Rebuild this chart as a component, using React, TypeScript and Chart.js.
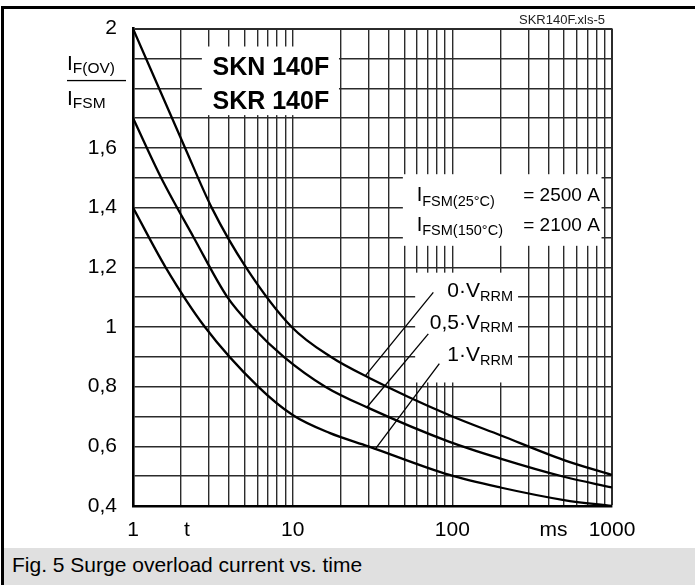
import React, { useEffect, useRef } from 'react';
import { Chart, registerables } from 'chart.js';

Chart.register(...registerables);

const FONT = '"Liberation Sans", Arial, Helvetica, sans-serif';

// ---- data (t in ms, value = IF(OV)/IFSM) ----
const seriesNames = ['0·VRRM', '0,5·VRRM', '1·VRRM'];

const tTop = [1, 2.12, 3.11, 5.1, 9.86, 17.3, 30, 96, 200, 500, 1000];
const vTop = [2.0, 1.6, 1.4, 1.2, 1.0, 0.9, 0.83, 0.704, 0.637, 0.554, 0.504];

const tMid = [1, 1.5, 2.4, 3.9, 5.6, 8.8, 16, 30, 96, 200, 500, 1000];
const vMid = [1.7, 1.5, 1.3, 1.1, 1.0, 0.9, 0.8, 0.728, 0.615, 0.559, 0.498, 0.462];

const tBot = [1, 1.6, 2.82, 6.08, 10, 17, 29.8, 96, 200, 500, 1000];
const vBot = [1.4, 1.2, 1.0, 0.8, 0.705, 0.645, 0.6, 0.504, 0.462, 0.42, 0.4];

const xLabelValues = [1, 10, 100, 1000];
const xAxisWords = [
  { text: 't', t: 2.18 },
  { text: 'ms', t: 430 },
];

// annotations in data coordinates
const whiteBoxes = [
  { t0: 2.7, t1: 19.5, v0: 1.71, v1: 1.94 },
  { t0: 49, t1: 860, v0: 1.272, v1: 1.512 },
  { t0: 58.5, t1: 258, v0: 0.814, v1: 1.182 },
];

const leaderLines = [
  { t0: 28.5, v0: 0.836, t1: 76, v1: 1.116 },
  { t0: 29.1, v0: 0.73, t1: 70.7, v1: 0.977 },
  { t0: 32.8, v0: 0.59, t1: 82.9, v1: 0.877 },
];

const productNames = ['SKN 140F', 'SKR 140F'];
const productT = 7.3;
const productV = [1.845, 1.73];

const ifsmSubs = ['FSM(25°C)', 'FSM(150°C)'];
const ifsmValues = ['= 2500 A', '= 2100 A'];
const ifsmV = [1.422, 1.322];
const ifsmT = 59.8;
const ifsmEqT = 278;

const vrrmMains = ['0·V', '0,5·V', '1·V'];
const vrrmV = [1.099, 0.994, 0.885];
const vrrmRightT = 240;

const sourceTag = 'SKR140F.xls-5';
const caption = 'Fig. 5 Surge overload current vs. time';

type Part = { text: string; size: number; bold?: boolean; dy?: number };

function drawParts(ctx: CanvasRenderingContext2D, parts: Part[], x: number, y: number, align: 'left' | 'right' | 'center') {
  const widths = parts.map((p) => {
    ctx.font = `${p.bold ? 'bold ' : ''}${p.size}px ${FONT}`;
    return ctx.measureText(p.text).width;
  });
  const total = widths.reduce((a, b) => a + b, 0);
  let cx = align === 'right' ? x - total : align === 'center' ? x - total / 2 : x;
  ctx.textAlign = 'left';
  ctx.textBaseline = 'alphabetic';
  parts.forEach((p, i) => {
    ctx.font = `${p.bold ? 'bold ' : ''}${p.size}px ${FONT}`;
    ctx.fillText(p.text, cx, y + (p.dy || 0));
    cx += widths[i];
  });
}

const overlayPlugin = {
  id: 'overlay',
  beforeDatasetsDraw(chart: any) {
    const { ctx, scales } = chart;
    const xs = scales.x;
    const ys = scales.y;
    ctx.save();
    ctx.fillStyle = '#ffffff';
    whiteBoxes.forEach((b) => {
      const x0 = xs.getPixelForValue(b.t0);
      const x1 = xs.getPixelForValue(b.t1);
      const y0 = ys.getPixelForValue(b.v1);
      const y1 = ys.getPixelForValue(b.v0);
      ctx.fillRect(x0, y0, x1 - x0, y1 - y0);
    });
    ctx.strokeStyle = '#000';
    ctx.lineWidth = 1.3;
    leaderLines.forEach((l) => {
      ctx.beginPath();
      ctx.moveTo(xs.getPixelForValue(l.t0), ys.getPixelForValue(l.v0));
      ctx.lineTo(xs.getPixelForValue(l.t1), ys.getPixelForValue(l.v1));
      ctx.stroke();
    });
    ctx.restore();
  },
  afterDraw(chart: any) {
    const { ctx, scales, chartArea } = chart;
    const xs = scales.x;
    const ys = scales.y;
    ctx.save();
    ctx.fillStyle = '#000';
    productNames.forEach((n, i) => {
      drawParts(ctx, [{ text: n, size: 25, bold: true }], xs.getPixelForValue(productT), ys.getPixelForValue(productV[i]), 'center');
    });
    ifsmSubs.forEach((s, i) => {
      const y = ys.getPixelForValue(ifsmV[i]);
      drawParts(ctx, [{ text: 'I', size: 20 }, { text: s, size: 14.5, dy: 4.5 }], xs.getPixelForValue(ifsmT), y, 'left');
      drawParts(ctx, [{ text: ifsmValues[i], size: 19 }], xs.getPixelForValue(ifsmEqT), y, 'left');
    });
    vrrmMains.forEach((m, i) => {
      drawParts(ctx, [{ text: m, size: 21 }, { text: 'RRM', size: 14.5, dy: 3.5 }], xs.getPixelForValue(vrrmRightT), ys.getPixelForValue(vrrmV[i]), 'right');
    });
    ctx.font = `21px ${FONT}`;
    ctx.textAlign = 'center';
    ctx.textBaseline = 'middle';
    xAxisWords.forEach((w) => {
      ctx.fillText(w.text, xs.getPixelForValue(w.t), chartArea.bottom + 24);
    });
    const lx = chartArea.left - 66;
    drawParts(ctx, [{ text: 'I', size: 21 }, { text: 'F(OV)', size: 15.5, dy: 3.5 }], lx, ys.getPixelForValue(1.862), 'left');
    ctx.fillRect(lx, ys.getPixelForValue(1.826) - 0.6, 59, 1.3);
    drawParts(ctx, [{ text: 'I', size: 21 }, { text: 'FSM', size: 15.5, dy: 3.5 }], lx, ys.getPixelForValue(1.745), 'left');
    ctx.font = `13px ${FONT}`;
    ctx.textAlign = 'right';
    ctx.textBaseline = 'alphabetic';
    ctx.fillStyle = '#222';
    ctx.fillText(sourceTag, chartArea.right - 7, chartArea.top - 5);
    ctx.restore();
  },
};

function toPoints(ts: number[], vs: number[]) {
  return ts.map((t, i) => ({ x: t, y: vs[i] }));
}

export default function App() {
  const ref = useRef<HTMLCanvasElement>(null);
  useEffect(() => {
    const canvas = ref.current;
    if (!canvas) return;
    const seriesT = [tTop, tMid, tBot];
    const seriesV = [vTop, vMid, vBot];
    const chart = new Chart(canvas, {
      type: 'line',
      data: {
        datasets: seriesNames.map((name, i) => ({
          label: name,
          data: toPoints(seriesT[i], seriesV[i]),
          borderColor: '#000',
          borderWidth: 2.3,
          pointRadius: 0,
          fill: false,
          cubicInterpolationMode: 'monotone' as const,
        })),
      },
      options: {
        animation: false,
        responsive: false,
        events: [],
        layout: { padding: { left: 0, right: 83, top: 27, bottom: 0 } },
        plugins: { legend: { display: false }, tooltip: { enabled: false } },
        scales: {
          x: {
            type: 'logarithmic',
            min: 1,
            max: 1000,
            afterBuildTicks: (scale: any) => {
              const ticks: { value: number }[] = [];
              [1, 10, 100].forEach((dec) => {
                for (let k = 1; k <= 9; k++) ticks.push({ value: k * dec });
              });
              ticks.push({ value: 1000 });
              scale.ticks = ticks;
            },
            afterFit: (scale: any) => {
              scale.height = 42;
            },
            grid: {
              color: '#2b2b2b',
              lineWidth: (c: any) => (c.tick && c.tick.value === 1000 ? 2 : 1.4),
              drawTicks: false,
            },
            border: { display: true, color: '#000', width: 2.6 },
            ticks: {
              autoSkip: false,
              maxRotation: 0,
              padding: 12,
              color: '#000',
              font: { family: FONT, size: 21 },
              callback: (value: any) => (xLabelValues.includes(Number(value)) ? String(value) : ''),
            },
          },
          y: {
            type: 'linear',
            min: 0.4,
            max: 2,
            afterFit: (scale: any) => {
              scale.width = 133;
            },
            grid: {
              color: '#2b2b2b',
              lineWidth: (c: any) => (c.tick && Math.round(c.tick.value * 10) === 20 ? 2 : 1.4),
              drawTicks: false,
            },
            border: { display: true, color: '#000', width: 2.6 },
            ticks: {
              stepSize: 0.1,
              autoSkip: false,
              padding: 16,
              color: '#000',
              font: { family: FONT, size: 21 },
              callback: (value: any) => {
                const r = Math.round(Number(value) * 10);
                if (r % 2 !== 0 || r === 18) return '';
                return String(r / 10).replace('.', ',');
              },
            },
          },
        },
      } as any,
      plugins: [overlayPlugin],
    });
    return () => chart.destroy();
  }, []);

  return (
    <div style={{ position: 'fixed', left: 0, top: 0, width: 695, height: 585, background: '#fff', overflow: 'hidden' }}>
      <canvas ref={ref} width={695} height={548} style={{ position: 'absolute', left: 0, top: 0, width: 695, height: 548 }} />
      <div style={{ position: 'absolute', left: 1, top: 6, width: 694, height: 3, background: '#000' }} />
      <div style={{ position: 'absolute', left: 1, top: 6, width: 3, height: 579, background: '#000' }} />
      <div
        style={{
          position: 'absolute',
          left: 4,
          top: 548,
          width: 691,
          height: 37,
          background: '#e0e0e0',
          fontFamily: FONT,
          fontSize: 21,
          lineHeight: '34px',
          paddingLeft: 8,
          boxSizing: 'border-box',
          color: '#000',
          whiteSpace: 'nowrap',
        }}
      >
        {caption}
      </div>
    </div>
  );
}
